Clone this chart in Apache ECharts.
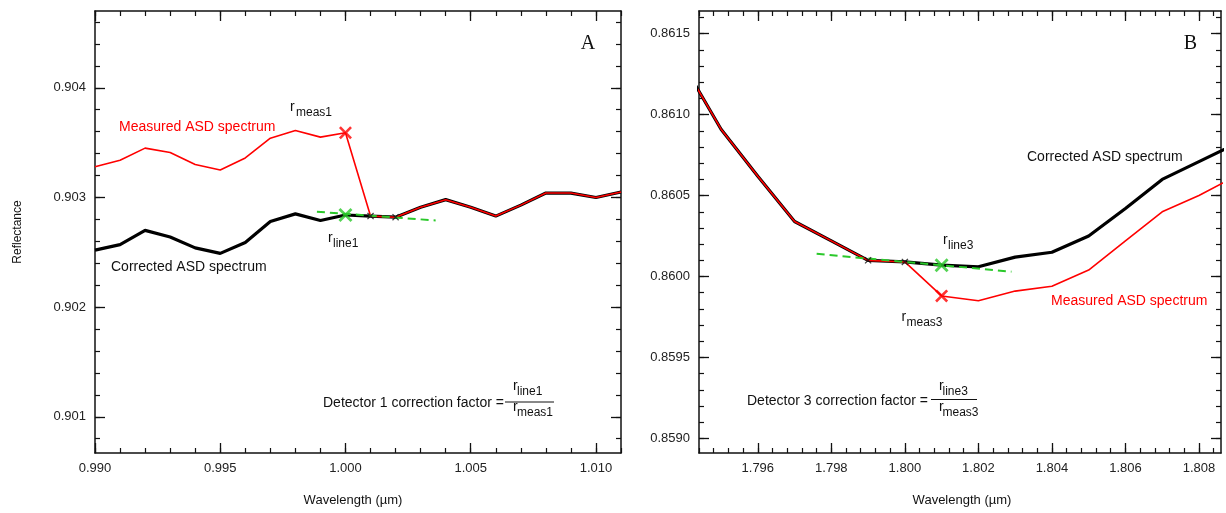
<!DOCTYPE html>
<html>
<head>
<meta charset="utf-8">
<script src="https://cdn.jsdelivr.net/npm/echarts@6/dist/echarts.min.js"></script>
<style>
  html, body { margin: 0; padding: 0; background: #fff; }
  #chart { width: 1226px; height: 513px; }
</style>
</head>
<body>
<div id="chart"></div>
<script>
// ---- panel A data ----
const wavelengthA = [0.990, 0.991, 0.992, 0.993, 0.994, 0.995, 0.996, 0.997, 0.998, 0.999, 1.000,
    1.001, 1.002, 1.003, 1.004, 1.005, 1.006, 1.007, 1.008, 1.009, 1.010, 1.011];
const correctedA = [0.90252, 0.90257, 0.90270, 0.90264, 0.90254, 0.90249, 0.90259, 0.90278, 0.90285, 0.90279, 0.90284,
    0.90283, 0.90282, 0.90291, 0.90298, 0.90291, 0.90283, 0.90293, 0.90304, 0.90304, 0.90300, 0.90305];
const measuredA = [0.90328, 0.90334, 0.90345, 0.90341, 0.90330, 0.90325, 0.90336, 0.90354, 0.90361, 0.90355, 0.90359,
    0.90283, 0.90282, 0.90291, 0.90298, 0.90291, 0.90283, 0.90293, 0.90304, 0.90304, 0.90300, 0.90305];
const fitLineA = [[0.99886, 0.90287], [1.0036, 0.90279]];
const fitPointsA = [[1.001, 0.90283], [1.002, 0.90282]];
const rMeasA = [[1.000, 0.90359]];
const rLineA = [[1.000, 0.90284]];
const xTicksA = [0.990, 0.995, 1.000, 1.005, 1.010];
const yTicksA = [0.901, 0.902, 0.903, 0.904];

// ---- panel B data ----
const wavelengthB = [1.794, 1.795, 1.796, 1.797, 1.798, 1.799, 1.800, 1.801,
    1.802, 1.803, 1.804, 1.805, 1.806, 1.807, 1.808, 1.809];
const correctedB = [0.86130, 0.86091, 0.86062, 0.86034, 0.86022, 0.86010, 0.86009, 0.86007,
    0.86006, 0.86012, 0.86015, 0.86025, 0.86042, 0.86060, 0.86071, 0.86082];
const measuredB = [0.86130, 0.86091, 0.86062, 0.86034, 0.86022, 0.86010, 0.86009, 0.85988,
    0.85985, 0.85991, 0.85994, 0.86004, 0.86022, 0.86040, 0.86050, 0.86062];
const fitLineB = [[1.7976, 0.86014], [1.8029, 0.86003]];
const fitPointsB = [[1.799, 0.86010], [1.800, 0.86009]];
const rMeasB = [[1.801, 0.85988]];
const rLineB = [[1.801, 0.86007]];
const xTicksB = [1.796, 1.798, 1.800, 1.802, 1.804, 1.806, 1.808];
const yTicksB = [0.8590, 0.8595, 0.8600, 0.8605, 0.8610, 0.8615];

const FONT = '"Liberation Sans", Arial, sans-serif';
const RED = '#ff0000';
const GREEN = '#2ac82a';
// filled "x" glyph, arms about 2.4px wide at 12px
const BIG_X = 'path://M0,1.7L1.7,0L6,4.3L10.3,0L12,1.7L7.7,6L12,10.3L10.3,12L6,7.7L1.7,12L0,10.3L4.3,6Z';
const SMALL_X = 'path://M0,1.5L1.5,0L6,4.5L10.5,0L12,1.5L7.5,6L12,10.5L10.5,12L6,7.5L1.5,12L0,10.5L4.5,6Z';

function zip(xs, ys) {
    return xs.map((x, i) => [x, ys[i]]);
}

// minor ticks between min and max, stepping from a major tick
function minorTicks(anchor, step, min, max) {
    const out = [];
    let v = anchor;
    while (v - step >= min - 1e-9) v -= step;
    for (; v <= max + 1e-9; v += step) out.push(Math.round(v * 1e6) / 1e6);
    return out;
}

// one side of the frame: major axis (with line) and minor axis (ticks only)
function sideAxes(grid, pos, min, max, majors, minors, labels, digits) {
    const major = {
        type: 'value', gridIndex: grid, position: pos, min: min, max: max,
        axisLine: { show: true, onZero: false, lineStyle: { color: '#111', width: 1.5 } },
        axisTick: { show: true, inside: true, length: 10, customValues: majors, lineStyle: { color: '#111', width: 1.3 } },
        axisLabel: {
            show: labels, customValues: majors, margin: 9, color: '#222', fontSize: 13, fontFamily: FONT,
            formatter: v => v.toFixed(digits)
        },
        splitLine: { show: false }
    };
    const minor = {
        type: 'value', gridIndex: grid, position: pos, min: min, max: max,
        axisLine: { show: false, onZero: false },
        axisTick: { show: true, inside: true, length: 5, customValues: minors, lineStyle: { color: '#111', width: 1.2 } },
        axisLabel: { show: false },
        splitLine: { show: false }
    };
    return [major, minor];
}

const rangeA = { xmin: 0.990, xmax: 1.011, ymin: 0.90067, ymax: 0.90470 };
const rangeB = { xmin: 1.7944, xmax: 1.8086, ymin: 0.85891, ymax: 0.86164 };

const xMinorA = minorTicks(1.000, 0.001, rangeA.xmin, rangeA.xmax);
const yMinorA = minorTicks(0.903, 0.0002, rangeA.ymin, rangeA.ymax);
const xMinorB = minorTicks(1.800, 0.0004, rangeB.xmin, rangeB.xmax);
const yMinorB = minorTicks(0.8600, 0.0001, rangeB.ymin, rangeB.ymax);

const xAxes = [].concat(
    sideAxes(0, 'bottom', rangeA.xmin, rangeA.xmax, xTicksA, xMinorA, true, 3),
    sideAxes(0, 'top', rangeA.xmin, rangeA.xmax, xTicksA, xMinorA, false, 3),
    sideAxes(1, 'bottom', rangeB.xmin, rangeB.xmax, xTicksB, xMinorB, true, 3),
    sideAxes(1, 'top', rangeB.xmin, rangeB.xmax, xTicksB, xMinorB, false, 3)
);
const yAxes = [].concat(
    sideAxes(0, 'left', rangeA.ymin, rangeA.ymax, yTicksA, yMinorA, true, 3),
    sideAxes(0, 'right', rangeA.ymin, rangeA.ymax, yTicksA, yMinorA, false, 3),
    sideAxes(1, 'left', rangeB.ymin, rangeB.ymax, yTicksB, yMinorB, true, 4),
    sideAxes(1, 'right', rangeB.ymin, rangeB.ymax, yTicksB, yMinorB, false, 4)
);

function lineSeries(xi, yi, data, color, width, z, dash) {
    return {
        type: 'line', xAxisIndex: xi, yAxisIndex: yi, data: data, symbol: 'none', z: z,
        lineStyle: { color: color, width: width, type: dash || 'solid' }, clip: true
    };
}
function markSeries(xi, yi, data, color, size, z, sym) {
    return {
        type: 'scatter', xAxisIndex: xi, yAxisIndex: yi, data: data, symbol: sym || BIG_X,
        symbolSize: size, itemStyle: { color: color }, z: z
    };
}

const series = [
    lineSeries(0, 0, zip(wavelengthA, correctedA), '#000', 3.2, 2),
    lineSeries(0, 0, zip(wavelengthA, measuredA), RED, 1.6, 3),
    lineSeries(0, 0, fitLineA, GREEN, 2, 4, [8, 5]),
    markSeries(0, 0, fitPointsA, '#111', 7, 5, SMALL_X),
    markSeries(0, 0, rMeasA, RED, 13, 6),
    markSeries(0, 0, rLineA, GREEN, 14, 6),

    lineSeries(4, 4, zip(wavelengthB, correctedB), '#000', 3.2, 2),
    lineSeries(4, 4, zip(wavelengthB, measuredB), RED, 1.6, 3),
    lineSeries(4, 4, fitLineB, GREEN, 2, 4, [8, 5]),
    markSeries(4, 4, fitPointsB, '#111', 7, 5, SMALL_X),
    markSeries(4, 4, rMeasB, RED, 13, 6),
    markSeries(4, 4, rLineB, GREEN, 14, 6)
];

// text helpers
function txt(x, y, s, color, size, family, align) {
    return {
        type: 'text', x: x, y: y, z: 20,
        style: { text: s, fill: color || '#111', font: (size || 14) + 'px ' + (family || FONT), align: align || 'left', verticalAlign: 'middle' }
    };
}
function rSub(x, y, sub, gap) {
    return [txt(x, y, 'r', '#111', 14), txt(x + (gap || 5), y + 5.5, sub, '#111', 12)];
}
function hline(x1, x2, y) {
    return { type: 'line', z: 20, shape: { x1: x1, y1: y, x2: x2, y2: y }, style: { stroke: '#111', lineWidth: 1 } };
}

const graphics = [].concat(
    [txt(119, 127, 'Measured ASD spectrum', RED),
     txt(111, 267, 'Corrected ASD spectrum', '#111'),
     txt(588, 44, 'A', '#111', 20, '"Liberation Serif", "Times New Roman", serif', 'center'),
     txt(323, 403, 'Detector 1 correction factor =', '#111'),
     hline(505, 554, 402)],
    rSub(290, 107, 'meas1', 6),
    rSub(328, 238, 'line1'),
    rSub(513, 386, 'line1', 4),
    rSub(513, 407.5, 'meas1', 4),

    [txt(1027, 157, 'Corrected ASD spectrum', '#111'),
     txt(1051, 301.5, 'Measured ASD spectrum', RED),
     txt(1190.5, 44, 'B', '#111', 20, '"Liberation Serif", "Times New Roman", serif', 'center'),
     txt(747, 401.5, 'Detector 3 correction factor =', '#111'),
     hline(931, 977, 399.5)],
    rSub(943, 240, 'line3'),
    rSub(901.5, 317, 'meas3'),
    rSub(939, 386.5, 'line3', 3.5),
    rSub(939, 407.5, 'meas3', 3.5),

    [{ type: 'text', x: 18, y: 232, rotation: Math.PI / 2, z: 20,
       style: { text: 'Reflectance', fill: '#111', font: '12px ' + FONT, align: 'center', verticalAlign: 'middle' } },
     txt(353, 500, 'Wavelength (µm)', '#111', 13, FONT, 'center'),
     txt(962, 500, 'Wavelength (µm)', '#111', 13, FONT, 'center')]
);

const myChart = echarts.init(document.getElementById('chart'), null, { renderer: 'canvas' });
const option = {
    animation: false,
    backgroundColor: '#fff',
    grid: [
        { left: 95, top: 11, width: 526, height: 442 },
        { left: 699, top: 11, width: 522, height: 442 }
    ],
    xAxis: xAxes,
    yAxis: yAxes,
    series: series,
    graphic: graphics
};
myChart.setOption(option);
</script>
</body>
</html>
